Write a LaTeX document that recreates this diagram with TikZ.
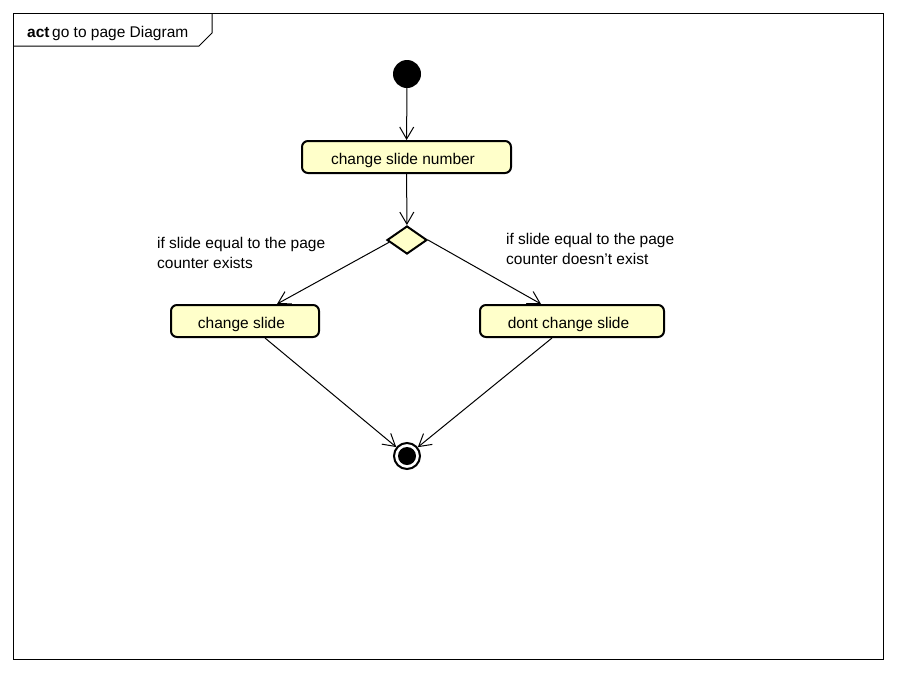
\documentclass[tikz,border=0pt]{standalone}
\usepackage{fontspec}
\setmainfont{Liberation Sans}
\usetikzlibrary{arrows.meta,shapes.geometric,calc}
\definecolor{actfill}{HTML}{FFFFCA}
\tikzset{
  action/.style={draw=black, line width=2pt, fill=actfill, rounded corners=6pt, minimum height=32pt, inner sep=0pt, text height=16pt, text depth=2pt, font=\fontsize{15.5}{18}\selectfont, execute at end node={\hspace*{7pt}}},
  flow/.style={draw=black, line width=1pt, -{Straight Barb[length=12pt,width=14pt,line width=1pt]}},
  lbl/.style={align=left, anchor=north west, inner sep=0pt, font=\fontsize{15.5}{20}\selectfont},
}
\begin{document}
\begin{tikzpicture}[x=1pt,y=-1pt]
\useasboundingbox (0,0) rectangle (897,673);
% frame
\draw[line width=1pt] (13,13) rectangle (883,659);
\draw[line width=1pt] (13,46) -- (199,46) -- (212,33) -- (212,13);
\node[anchor=west, inner sep=0pt, font=\fontsize{15.5}{18}\selectfont] (title) at (27,33) {\textbf{act}\,go to page Diagram};
% nodes
\node[circle, fill=black, minimum size=28pt, inner sep=0pt] (init) at (407,74) {};
\node[action, minimum width=209pt] (num) at (406.5,157) {change slide number};
\node[diamond, draw=black, line width=2pt, fill=actfill, minimum width=40pt, minimum height=28pt, inner sep=0pt] (dia) at (407,240) {};
\node[action, minimum width=148pt] (cs) at (245,321) {change slide};
\node[action, minimum width=184pt] (dcs) at (572,321) {dont change slide};
\node[circle, draw=black, line width=2pt, minimum size=26pt, inner sep=0pt] (fin) at (407,456) {};
\node[circle, fill=black, minimum size=18pt, inner sep=0pt] (finin) at (407,456) {};
% labels
\node[lbl] (l1) at (157,237) {if slide equal to the page\\counter exists};
\node[lbl] (l2) at (506,233) {if slide equal to the page\\counter doesn't exist};
% edges
\draw[flow] (init) -- (num);
\draw[flow] (num) -- (dia);
\draw[flow] ($(dia.west)!0.15!(dia.south)$) -- ([xshift=32pt]cs.north);
\draw[flow] (dia.east) -- ([xshift=-31pt]dcs.north);
\draw[flow] ([xshift=20pt]cs.south) -- (fin);
\draw[flow] ([xshift=-20pt]dcs.south) -- (fin);
\end{tikzpicture}
\end{document}
